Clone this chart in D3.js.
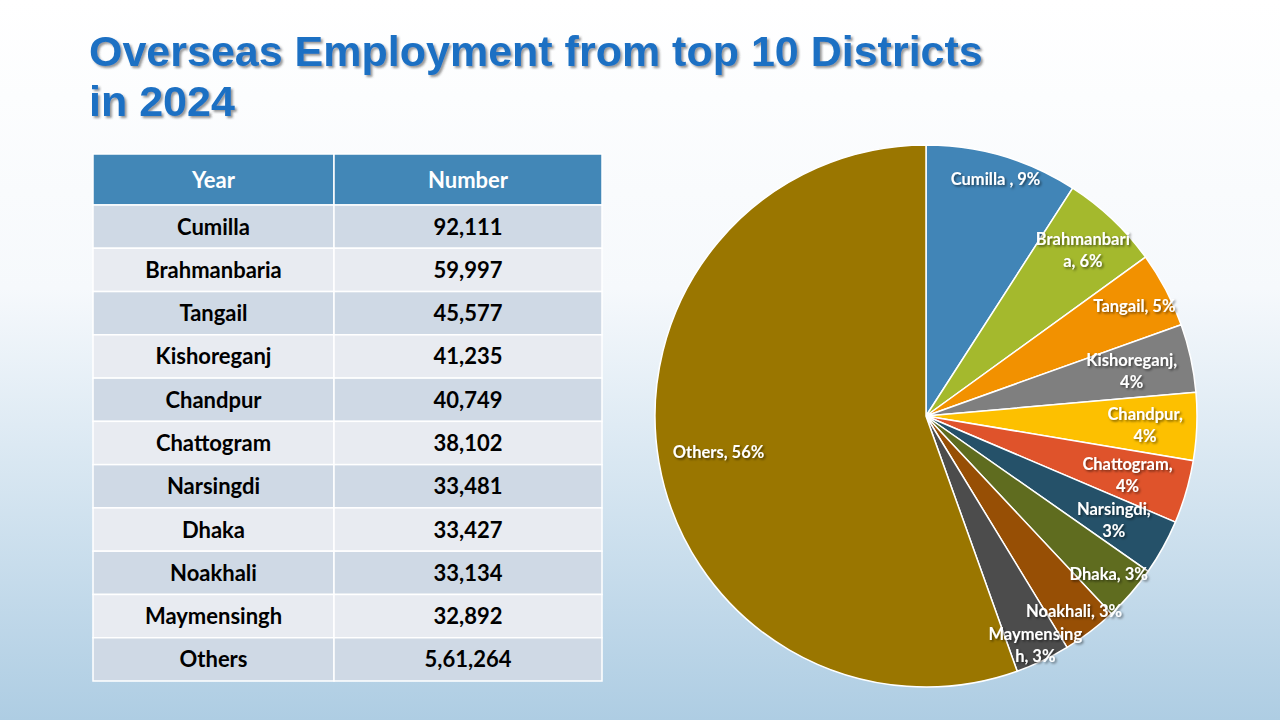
<!DOCTYPE html>
<html>
<head>
<meta charset="utf-8">
<script src="https://cdn.jsdelivr.net/npm/d3@7"></script>
<style>
  html, body { margin: 0; padding: 0; }
  svg { display: block; }
</style>
</head>
<body>
<svg id="chart" width="1280" height="720"></svg>
<script>
// districts and counts, same order as the table
var districts = ["Cumilla ", "Brahmanbaria", "Tangail", "Kishoreganj", "Chandpur",
  "Chattogram", "Narsingdi", "Dhaka", "Noakhali", "Maymensingh", "Others"];
var counts = [92111, 59997, 45577, 41235, 40749, 38102, 33481, 33427, 33134, 32892, 561264];
var countText = ["92,111", "59,997", "45,577", "41,235", "40,749", "38,102",
  "33,481", "33,427", "33,134", "32,892", "5,61,264"];
// data labels as they appear on the slices
var sliceLabels = ["Cumilla , 9%", "Brahmanbari|a, 6%", "Tangail, 5%", "Kishoreganj,|4%",
  "Chandpur,|4%", "Chattogram,|4%", "Narsingdi,|3%", "Dhaka, 3%", "Noakhali, 3%",
  "Maymensing|h, 3%", "Others, 56%"];
var sliceColors = ["#4185b7", "#a4b92d", "#f29100", "#7f7f7f", "#fdc000", "#df532b",
  "#255169", "#5f6c1f", "#974f05", "#4c4c4c", "#9a7600"];
var headers = ["Year", "Number"];

var svg = d3.select("#chart");
var defs = svg.append("defs");

var bg = defs.append("linearGradient").attr("id", "bg")
  .attr("x1", 0).attr("y1", 0).attr("x2", 0).attr("y2", 1);
bg.append("stop").attr("offset", "0").attr("stop-color", "#ffffff");
bg.append("stop").attr("offset", "0.4").attr("stop-color", "#f6f9fc");
bg.append("stop").attr("offset", "1").attr("stop-color", "#aecde3");

var shadow = defs.append("filter").attr("id", "shadow")
  .attr("x", "-10%").attr("y", "-20%").attr("width", "130%").attr("height", "150%");
shadow.append("feDropShadow").attr("dx", 1.5).attr("dy", 1.5)
  .attr("stdDeviation", 1).attr("flood-color", "#000").attr("flood-opacity", 0.55);

var tshadow = defs.append("filter").attr("id", "tshadow")
  .attr("x", "-10%").attr("y", "-20%").attr("width", "130%").attr("height", "150%");
tshadow.append("feDropShadow").attr("dx", 2).attr("dy", 2)
  .attr("stdDeviation", 1.2).attr("flood-color", "#333").attr("flood-opacity", 0.5);

svg.append("rect").attr("width", 1280).attr("height", 720).attr("fill", "url(#bg)");

// title
var title = svg.append("text")
  .attr("font-family", "'Liberation Sans', Arial, sans-serif")
  .attr("font-weight", "bold")
  .attr("font-size", 43)
  .attr("fill", "#1b6fc3")
  .attr("filter", "url(#tshadow)");
title.append("tspan").attr("x", 89).attr("y", 66).text("Overseas Employment from top 10 Districts");
title.append("tspan").attr("x", 89).attr("y", 116).text("in 2024");

// table
var tableLeft = 93, tableRight = 602, colSplit = 334;
var headTop = 154, headBottom = 205, tableBottom = 681;

var col = d3.scaleOrdinal().domain(headers).range([[tableLeft, colSplit], [colSplit, tableRight]]);
var row = d3.scaleBand().domain(d3.range(districts.length)).range([headBottom, tableBottom]);

var table = svg.append("g");
var cellFont = "Lato, 'Open Sans', sans-serif";

headers.forEach(function (h) {
  var c = col(h);
  table.append("rect")
    .attr("x", c[0]).attr("y", headTop)
    .attr("width", c[1] - c[0]).attr("height", headBottom - headTop)
    .attr("fill", "#4287b7").attr("stroke", "#ffffff").attr("stroke-width", 1.5);
  table.append("text")
    .attr("x", (c[0] + c[1]) / 2).attr("y", (headTop + headBottom) / 2 + 8)
    .attr("text-anchor", "middle")
    .attr("font-family", cellFont).attr("font-weight", "bold").attr("font-size", 22)
    .attr("fill", "#ffffff").text(h);
});

districts.forEach(function (d, i) {
  var cells = [d.trim(), countText[i]];
  headers.forEach(function (h, j) {
    var c = col(h);
    table.append("rect")
      .attr("x", c[0]).attr("y", row(i))
      .attr("width", c[1] - c[0]).attr("height", row.bandwidth())
      .attr("fill", i % 2 === 0 ? "#cfd9e5" : "#e8ebf1")
      .attr("stroke", "#ffffff").attr("stroke-width", 1.5);
    table.append("text")
      .attr("x", (c[0] + c[1]) / 2).attr("y", row(i) + row.bandwidth() / 2 + 8)
      .attr("text-anchor", "middle")
      .attr("font-family", cellFont).attr("font-weight", "bold").attr("font-size", 22)
      .attr("fill", "#000000").text(cells[j]);
  });
});

// pie
var cx = 926, cy = 416, radius = 271;
var pie = d3.pie().sort(null).value(function (d) { return d; });
var arcs = pie(counts);
var arc = d3.arc().innerRadius(0).outerRadius(radius);

var pieG = svg.append("g").attr("transform", "translate(" + cx + "," + cy + ")");
pieG.selectAll("path").data(arcs).enter().append("path")
  .attr("d", arc)
  .attr("fill", function (d, i) { return sliceColors[i]; })
  .attr("stroke", "#ffffff").attr("stroke-width", 1.5);

// labels, "inside end": the box edge along the mid ray sits just inside the rim,
// pushed outward if it runs into the label before it
var labelG = pieG.append("g");
var rimInset = 14;
var placed = [];
arcs.forEach(function (a, i) {
  var lines = sliceLabels[i].split("|");
  var t = labelG.append("text")
    .attr("text-anchor", "middle")
    .attr("font-family", cellFont).attr("font-weight", "bold").attr("font-size", 16.5)
    .attr("fill", "#ffffff").attr("filter", "url(#shadow)");
  lines.forEach(function (l, k) {
    t.append("tspan").attr("x", 0).attr("dy", k === 0 ? 0 : 22).text(l);
  });
  var box = t.node().getBBox();
  var hw = box.width / 2, hh = box.height / 2;
  var mid = (a.startAngle + a.endAngle) / 2;
  var ux = Math.sin(mid), uy = -Math.cos(mid);
  var toEdge = Math.min(hw / Math.max(Math.abs(ux), 1e-6), hh / Math.max(Math.abs(uy), 1e-6));
  var dist = radius - rimInset - toEdge;
  function hits(d) {
    var x = d * ux, y = d * uy;
    return placed.some(function (p) {
      return Math.abs(x - p.x) < hw + p.hw && Math.abs(y - p.y) < hh + p.hh + 3;
    });
  }
  while (hits(dist) && dist < radius + 40) dist += 1;
  var lx = dist * ux, ly = dist * uy;
  placed.push({ x: lx, y: ly, hw: hw, hh: hh });
  t.attr("transform", "translate(" + lx + "," + (ly - hh - box.y) + ")");
});
</script>
</body>
</html>
